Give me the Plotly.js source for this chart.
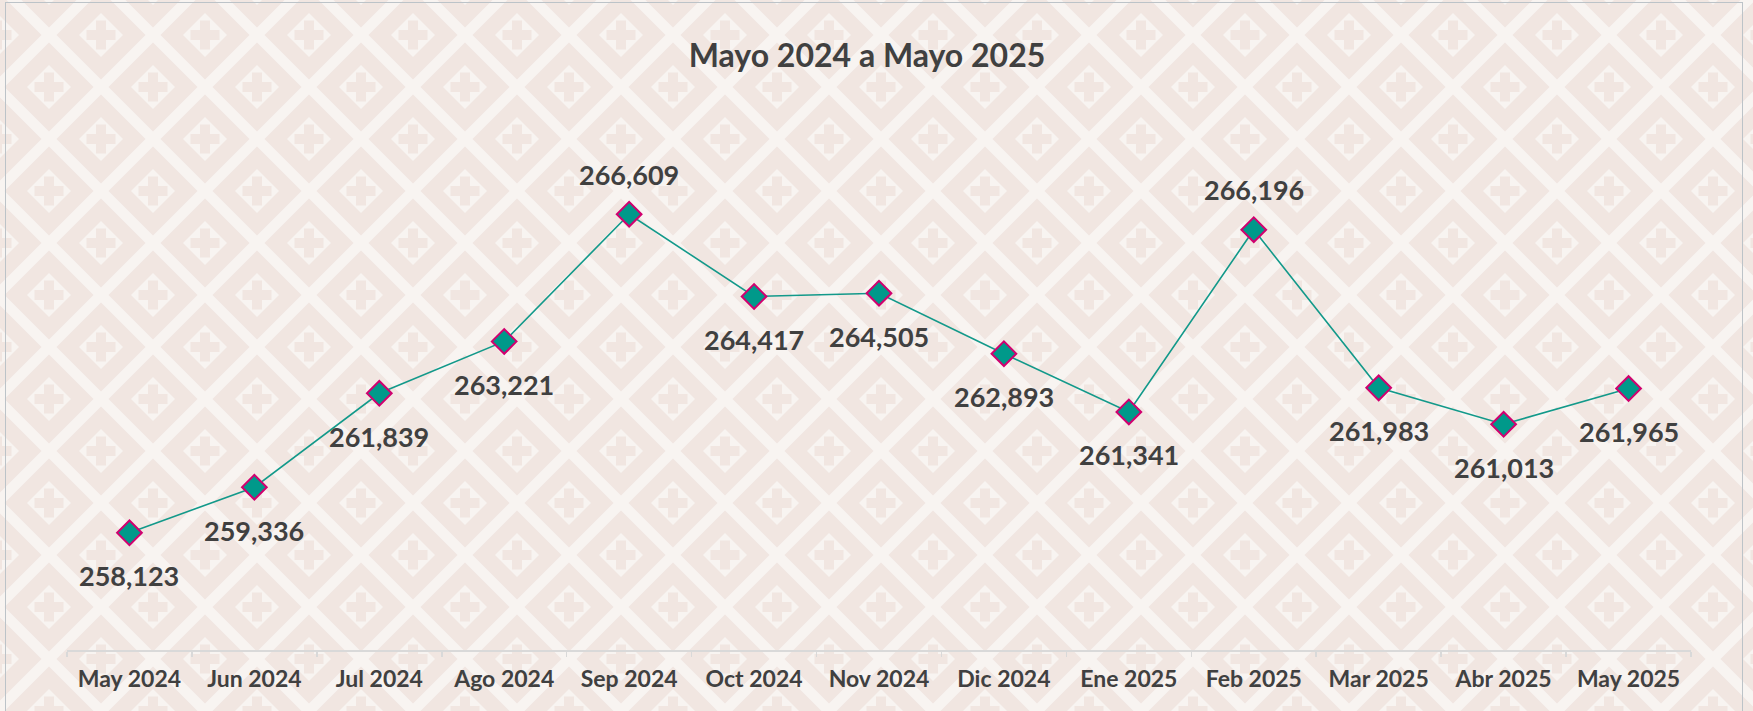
<!DOCTYPE html>
<html>
<head>
<meta charset="utf-8">
<script src="https://cdn.plot.ly/plotly-3.0.1.min.js"></script>
<style>
  html, body { margin: 0; padding: 0; width: 1753px; height: 711px; overflow: hidden; }
  #bg { position: absolute; left: 0; top: 0; width: 1753px; height: 711px; }
  #frame { position: absolute; left: 5px; top: 2px; width: 1738px; height: 720px;
           border: 1.5px solid #bcc3c8; box-sizing: border-box; }
  #chart { position: absolute; left: 0; top: 0; width: 1753px; height: 711px; }
</style>
</head>
<body>
<div id="bg"></div>
<div id="frame"></div>
<div id="chart"></div>
<script>
// ---- Data ----
const months = ["May 2024","Jun 2024","Jul 2024","Ago 2024","Sep 2024","Oct 2024","Nov 2024",
                "Dic 2024","Ene 2025","Feb 2025","Mar 2025","Abr 2025","May 2025"];
const values = [258123, 259336, 261839, 263221, 266609, 264417, 264505,
                262893, 261341, 266196, 261983, 261013, 261965];
const labelAbove = [false,false,false,false,true,false,false,false,false,true,false,false,false];
const chartTitle = "Mayo 2024 a Mayo 2025";

// ---- Background pattern (decorative) ----
(function(){
  const P = 104, h = P/2, outer = 44.5, inner = 22, armL = 14.5, armW = 5;
  const light = "#f8f4f1", pink = "#f1e6e1";
  let s = `<svg xmlns="http://www.w3.org/2000/svg" width="${P}" height="${P}"><rect width="${P}" height="${P}" fill="${light}"/>`;
  const centers = [[0,0],[P,0],[0,P],[P,P],[h,h]];
  for (const [cx,cy] of centers) {
    s += `<polygon points="${cx-outer},${cy} ${cx},${cy-outer} ${cx+outer},${cy} ${cx},${cy+outer}" fill="${pink}"/>`;
    s += `<polygon points="${cx-inner},${cy} ${cx},${cy-inner} ${cx+inner},${cy} ${cx},${cy+inner}" fill="${light}"/>`;
    s += `<rect x="${cx-armL}" y="${cy-armW}" width="${2*armL}" height="${2*armW}" fill="${pink}"/>`;
    s += `<rect x="${cx-armW}" y="${cy-armL}" width="${2*armW}" height="${2*armL}" fill="${pink}"/>`;
  }
  s += `</svg>`;
  const bg = document.getElementById('bg');
  bg.style.backgroundImage = `url("data:image/svg+xml;utf8,${encodeURIComponent(s)}")`;
  bg.style.backgroundPosition = "-3.5px 35px";
  bg.style.backgroundRepeat = "repeat";
})();

// ---- Chart ----
const fontFam = "Lato, 'Open Sans', sans-serif";
const trace = {
  x: months,
  y: values,
  type: "scatter",
  mode: "lines+markers",
  line: { color: "#12998a", width: 1.6 },
  marker: { symbol: "diamond", size: 19, color: "#00998a", line: { color: "#d1006f", width: 2 } },
  hoverinfo: "skip",
  cliponaxis: false
};

const annotations = values.map((v, i) => ({
  x: months[i], y: v, xref: "x", yref: "y",
  text: v.toLocaleString("en-US"),
  showarrow: false,
  xanchor: "center", yanchor: "middle",
  yshift: labelAbove[i] ? 40 : -43,
  font: { family: fontFam, size: 27, color: "#404040", weight: "bold" }
}));

const layout = {
  width: 1753, height: 711,
  margin: { l: 66.5, r: 61.5, t: 161.5, b: 61, pad: 0 },
  paper_bgcolor: "rgba(0,0,0,0)",
  plot_bgcolor: "rgba(0,0,0,0)",
  showlegend: false,
  title: {
    text: chartTitle,
    font: { family: fontFam, size: 32, color: "#404040", weight: "bold" },
    xref: "container", yref: "container",
    x: 867/1753, y: 1 - 56/711, xanchor: "center", yanchor: "middle"
  },
  annotations: annotations,
  xaxis: {
    type: "category",
    range: [-0.5, 12.5],
    showgrid: false, zeroline: false,
    showline: true, linecolor: "#d9d9d9", linewidth: 1.5,
    ticks: "outside", tickson: "boundaries", ticklen: 5, tickcolor: "#d9d9d9", tickwidth: 1.5,
    tickfont: { family: fontFam, size: 23, color: "#404040", weight: "bold" },
    ticklabelstandoff: 8,
    fixedrange: true
  },
  yaxis: {
    visible: false,
    range: [255000, 268000],
    fixedrange: true
  }
};

Plotly.newPlot("chart", [trace], layout, { staticPlot: true, displayModeBar: false });
</script>
</body>
</html>
